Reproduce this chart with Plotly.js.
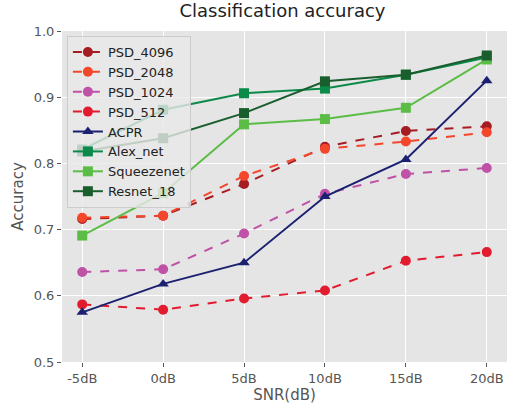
<!DOCTYPE html>
<html>
<head>
<meta charset="utf-8">
<script src="https://cdn.plot.ly/plotly-3.0.1.min.js"></script>
<style>html,body{margin:0;padding:0;background:#fff;}#chart{width:509px;height:404px;}</style>
</head>
<body>
<div id="chart"></div>
<script>
const snrLabels = ["-5dB", "0dB", "5dB", "10dB", "15dB", "20dB"];
const psd4096 = [0.716, 0.721, 0.769, 0.825, 0.849, 0.856];
const psd2048 = [0.718, 0.721, 0.781, 0.822, 0.833, 0.847];
const psd1024 = [0.636, 0.640, 0.694, 0.754, 0.784, 0.793];
const psd512  = [0.587, 0.579, 0.596, 0.608, 0.653, 0.666];
const acpr    = [0.575, 0.618, 0.650, 0.750, 0.806, 0.925];
const alexnet = [0.821, 0.881, 0.906, 0.913, 0.934, 0.960];
const squeezenet = [0.691, 0.755, 0.859, 0.867, 0.884, 0.957];
const resnet18 = [0.818, 0.838, 0.876, 0.924, 0.934, 0.963];
const yTicks = [0.5, 0.6, 0.7, 0.8, 0.9, 1.0];

function tr(name, y, color, dash, symbol) {
  return {
    x: snrLabels, y: y, name: name, type: 'scatter', mode: 'lines+markers',
    line: {color: color, width: 2, dash: dash},
    marker: {color: color, size: 10, symbol: symbol}
  };
}
const traces = [
  tr('PSD_4096', psd4096, '#a51c22', 'dash', 'circle'),
  tr('PSD_2048', psd2048, '#f4462b', 'dash', 'circle'),
  tr('PSD_1024', psd1024, '#bf51a6', 'dash', 'circle'),
  tr('PSD_512', psd512, '#e31b2f', 'dash', 'circle'),
  tr('ACPR', acpr, '#1b2170', 'solid', 'triangle-up'),
  tr('Alex_net', alexnet, '#0b8a4a', 'solid', 'square'),
  tr('Squeezenet', squeezenet, '#5cbd46', 'solid', 'square'),
  tr('Resnet_18', resnet18, '#1a5e2e', 'solid', 'square')
];
const layout = {
  width: 509, height: 404,
  margin: {l: 62, r: 2, t: 31, b: 42},
  paper_bgcolor: '#ffffff', plot_bgcolor: '#e5e5e5',
  font: {family: 'DejaVu Sans', color: '#555555', size: 13},
  title: {text: 'Classification accuracy', font: {size: 18, color: '#222222'}, x: 0.555, xanchor: 'center', y: 0.99, yanchor: 'top'},
  xaxis: {
    type: 'category', range: [-0.25, 5.25],
    tickvals: snrLabels, ticktext: snrLabels,
    showgrid: true, gridcolor: '#ffffff', gridwidth: 1,
    zeroline: false, showline: false,
    ticks: 'outside', ticklen: 4, tickcolor: '#555555',
    tickfont: {size: 13, color: '#555555'},
    title: {text: 'SNR(dB)', font: {size: 15, color: '#555555'}, standoff: 2}
  },
  yaxis: {
    range: [0.5, 1.0], tickvals: yTicks, ticktext: yTicks.map(v => v.toFixed(1)),
    showgrid: true, gridcolor: '#ffffff', gridwidth: 1,
    zeroline: false, showline: false,
    ticks: 'outside', ticklen: 4, tickcolor: '#555555',
    tickfont: {size: 13, color: '#555555'},
    title: {text: 'Accuracy', font: {size: 15, color: '#555555'}, standoff: 6}
  },
  showlegend: true,
  legend: {
    x: 0.011, y: 0.985, xanchor: 'left', yanchor: 'top',
    bgcolor: 'rgba(232,232,232,0.8)', bordercolor: '#cccccc', borderwidth: 1,
    font: {size: 13, color: '#222222'}, itemwidth: 30, tracegroupgap: 0
  }
};
Plotly.newPlot('chart', traces, layout, {displayModeBar: false, staticPlot: true});
</script>
</body>
</html>
